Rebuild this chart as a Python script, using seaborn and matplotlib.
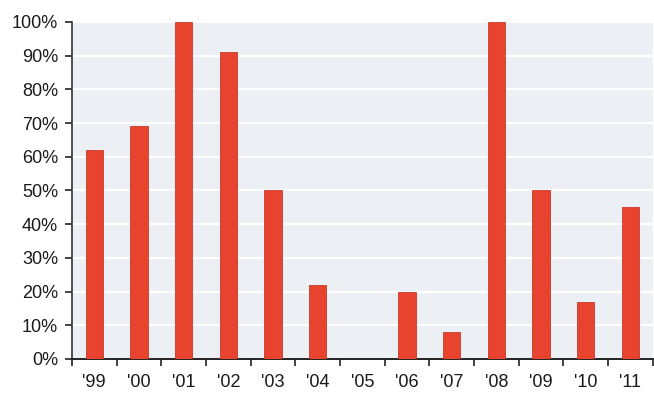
import matplotlib
matplotlib.use("Agg")
import matplotlib.pyplot as plt
import seaborn as sns
import pandas as pd
from matplotlib.ticker import FixedLocator, PercentFormatter

years = ["'99", "'00", "'01", "'02", "'03", "'04", "'05", "'06", "'07", "'08", "'09", "'10", "'11"]
share = [62, 69, 100, 91, 50, 22, 0, 20, 8, 100, 50, 17, 45]
y_ticks = list(range(0, 101, 10))

df = pd.DataFrame({"year": years, "share": share})

sns.set_theme(style="ticks")
plt.rcParams["font.family"] = ["Liberation Sans", "DejaVu Sans"]

fig = plt.figure(figsize=(6.54, 3.98), dpi=100)
ax = fig.add_axes([0.110, 0.098, 0.888, 0.847])
ax.set_facecolor("#ECEFF4")

sns.barplot(data=df, x="year", y="share", color="#E8432E", width=0.39,
            edgecolor="#C93A28", linewidth=0.6, saturation=1, ax=ax, zorder=3)

ax.set_ylim(0, 100)
ax.set_xlim(-0.5, len(years) - 0.5)
ax.yaxis.set_major_locator(FixedLocator(y_ticks))
ax.yaxis.set_major_formatter(PercentFormatter(decimals=0))
ax.grid(axis="y", color="white", linewidth=1.6, zorder=0)
ax.set_axisbelow(True)

# tick marks sit between categories; labels sit under the bars
ax.set_xticks([i - 0.5 for i in range(len(years) + 1)], minor=True)
ax.tick_params(axis="x", which="minor", bottom=True, length=5, width=1.2,
               color="#222222", direction="out")
ax.tick_params(axis="x", which="major", bottom=True, length=0, pad=11,
               labelsize=13, labelcolor="#1a1a1a")
ax.tick_params(axis="y", which="major", left=True, length=5, width=1.2,
               color="#222222", direction="out", pad=5, labelsize=13, labelcolor="#1a1a1a")
ax.tick_params(axis="y", which="minor", left=False)

for side in ("top", "right"):
    ax.spines[side].set_visible(False)
ax.spines["left"].set_color("#333333")
ax.spines["left"].set_linewidth(1.2)
ax.spines["bottom"].set_color("#222222")
ax.spines["bottom"].set_linewidth(1.4)

ax.set_xlabel("")
ax.set_ylabel("")

fig.savefig("out.png", dpi=100, facecolor="white")
